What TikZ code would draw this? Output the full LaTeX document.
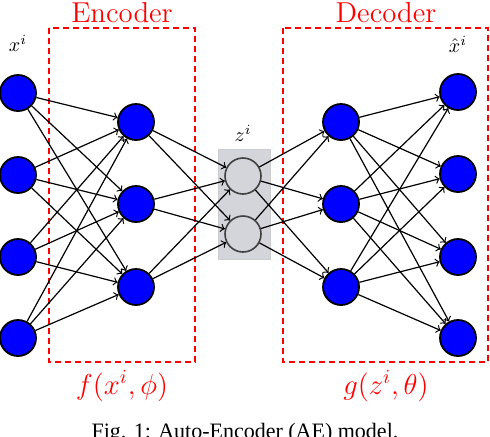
\documentclass[tikz,border=0pt]{standalone}
\usepackage{fontspec}
\newfontfamily\capfont{Liberation Serif}
\usetikzlibrary{calc,shapes,arrows}
\definecolor{zgray}{RGB}{211,213,219}
\tikzset{
  neuron/.style={circle,draw=black,line width=0.9pt,fill=blue,minimum size=18pt,inner sep=0pt},
  zunit/.style={circle,draw=black!75,line width=0.8pt,fill=zgray,minimum size=18pt,inner sep=0pt},
  part/.style={draw=red,dash pattern=on 3pt off 2pt,semithick},
  link/.style={->,semithick}
}

\begin{document}
\begin{tikzpicture}[x=0.5pt,y=-0.5pt]
\useasboundingbox (0,0) rectangle (490,436);
%encoder / decoder boxes
\draw[part] (49,28) rectangle (195,362);
\draw[part] (283,28) rectangle (488,362);
\node[red,font=\Large] (enc) at (122,13) {Encoder};
\node[red,font=\Large] (dec) at (386,13) {Decoder};
\node[red,font=\Large] (f) at (122,386) {$f(x^i,\phi)$};
\node[red,font=\Large] (g) at (386,386) {$g(z^i,\theta)$};
%code box
\fill[color=zgray] (218,149) rectangle (270,259);
\draw[color=black!20] (218,149) rectangle (270,259);
%layers
\foreach \y [count=\i] in {93,175,257,338}
  \node[neuron] (in\i) at (18,\y) {};
\foreach \y [count=\i] in {122,204,287}
  \node[neuron] (eh\i) at (136,\y) {};
\foreach \y [count=\i] in {176,234}
  \node[zunit] (z\i) at (243,\y) {};
\foreach \y [count=\i] in {122,204,287}
  \node[neuron] (dh\i) at (341,\y) {};
\foreach \y [count=\i] in {92,174,257,338}
  \node[neuron] (out\i) at (458,\y) {};
\node (xl) at (18,43) {$x^i$};
\node (zl) at (243,133) {$z^i$};
\node (xh) at (458,44) {$\hat{x}^i$};
%connections
\foreach \i in {1,...,4}
  \foreach \j in {1,2,3}
    \draw[link] (in\i) -- (eh\j);
\foreach \i in {1,2,3}
  \foreach \j in {1,2}
    \draw[link] (eh\i) -- (z\j);
\foreach \i in {1,2}
  \foreach \j in {1,2,3}
    \draw[link] (z\i) -- (dh\j);
\foreach \i in {1,2,3}
  \foreach \j in {1,...,4}
    \draw[link] (dh\i) -- (out\j);
%caption
\node[font=\capfont\fontsize{11}{13}\selectfont,anchor=north,inner sep=0pt] (cap) at (245,423) {Fig. 1: Auto-Encoder (AE) model.};
\end{tikzpicture}
\end{document}
